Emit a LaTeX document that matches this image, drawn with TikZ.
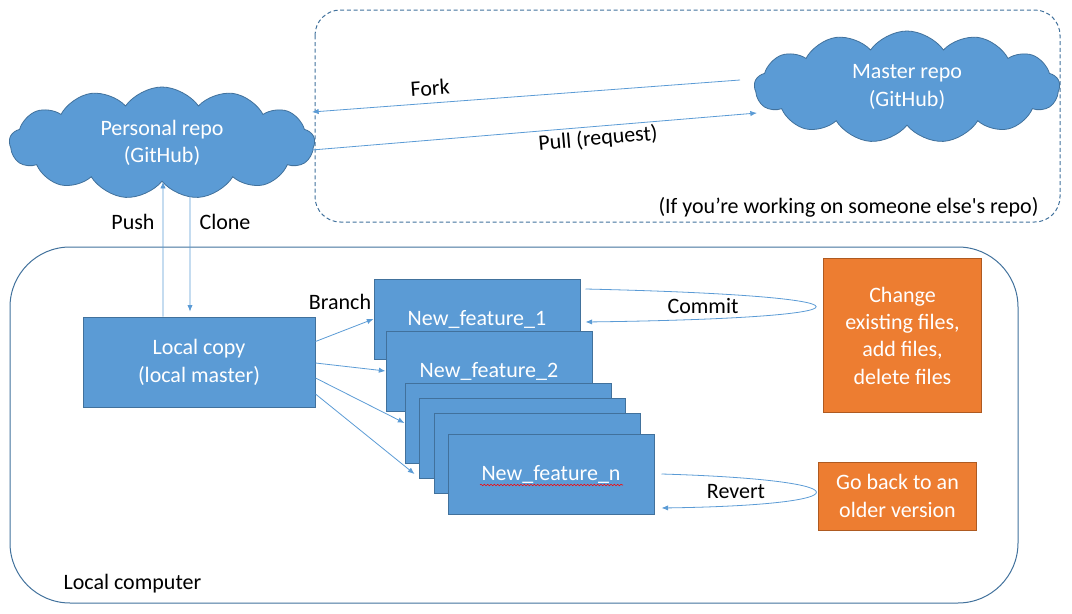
\documentclass[tikz,border=0pt]{standalone}
\usepackage{fontspec}
\setmainfont{Carlito}[Ligatures=TeXOff]
\usetikzlibrary{shapes.symbols,arrows.meta,calc,decorations.pathmorphing}
\definecolor{boxblue}{HTML}{5B9BD5}
\definecolor{edgeblue}{HTML}{41719C}
\definecolor{boxorange}{HTML}{ED7D31}
\definecolor{edgeorange}{HTML}{AE5A21}
\tikzset{
  arr/.style={draw=boxblue,line width=0.6pt,-{Latex[length=5pt,width=4pt]}},
  repocloud/.style={cloud,cloud puffs=13,cloud puff arc=110,aspect=2.7,fill=boxblue,draw=edgeblue,
    line width=0.6pt,text=white,align=center,inner sep=0pt,minimum width=229pt,minimum height=84pt},
  featbox/.style={rectangle,fill=boxblue,draw=edgeblue,line width=0.75pt,text=white,
    minimum width=154.5pt,minimum height=60pt},
  notebox/.style={rectangle,fill=boxorange,draw=edgeorange,line width=0.75pt,text=white,align=center},
  lbl/.style={text=black,inner sep=1pt}
}
\begin{document}
\begin{tikzpicture}[x=0.75pt,y=-0.75pt,font=\fontsize{16.5}{20.5}\selectfont]
  \useasboundingbox (0,0) rectangle (1072,614);
  % frames
  \draw[edgeblue,line width=0.75pt,dash pattern=on 3pt off 2pt,rounded corners=19pt] (315,10) rectangle (1060,222);
  \draw[edgeblue,line width=0.75pt,rounded corners=45pt] (10,247) rectangle (1018,603);
  % repos
  \node (personal) at (162,143)[repocloud]{Personal repo\\(GitHub)};
  \node (master) at (907,87)[repocloud]{Master repo\\(GitHub)};
  \node (local) at (199,362.5)[featbox,minimum width=174pt,minimum height=68pt,align=center]{Local copy\\(local master)};
  % branches
  \node (feat1) at (477,319)[featbox]{New\_feature\_1};
  \node (feat2) at (489,371)[featbox]{New\_feature\_2};
  \node (feat3) at (508,423)[featbox]{};
  \node (feat4) at (522,438)[featbox]{};
  \node (feat5) at (537,453)[featbox]{};
  \node (featn) at (551,474)[featbox]{New\_feature\_n};
  \draw[red,line width=0.4pt,decorate,decoration={snake,amplitude=0.6pt,segment length=2.5pt}]
    ($(featn.center)+(-71,11)$) -- ($(featn.center)+(72,11)$);
  \node (change) at (902.5,335.5)[notebox,minimum width=119pt,minimum height=116pt]{Change\\existing files,\\add files,\\delete files};
  \node (goback) at (897.5,496)[notebox,minimum width=119pt,minimum height=51pt]{Go back to an\\older version};
  % connectors
  \draw[arr] ($(master.center)+(-167,-7)$) -- ($(personal.center)+(150,-31)$);
  \draw[arr] ($(personal.center)+(150,7)$) -- ($(master.center)+(-150,26)$);
  \draw[arr] ($(local.north)+(-36,0)$) -- ($(personal.south)+(1,0)$);
  \draw[arr] ($(personal.south)+(28,0)$) -- ($(local.north)+(-9,-5)$);
  \draw[arr] ($(local.east)+(0,-21)$) -- (feat1.west);
  \draw[arr] ($(local.east)+(0,0.5)$) -- (feat2.west);
  \draw[arr] ($(local.east)+(0,15.5)$) -- (feat3.west);
  \draw[arr] ($(local.east)+(0,31.5)$) -- ($(feat4.west |- featn.west)+(-4,0)$);
  \draw[arr] ($(feat1.east)+(5,-30)$) .. controls (892,296) and (892,318) .. ($(feat1.east)+(5,3)$);
  \draw[arr] ($(featn.east)+(7,0)$) .. controls (867,480) and (867,505) .. ($(featn.east)+(7,34)$);
  % labels
  \node at (430,88)[lbl,rotate=4]{Fork};
  \node at (598,139)[lbl,rotate=5]{Pull (request)};
  \node at (133,222)[lbl]{Push};
  \node at (225,222)[lbl]{Clone};
  \node at (340,302)[lbl]{Branch};
  \node at (703,306)[lbl]{Commit};
  \node at (736,492)[lbl]{Revert};
  \node at (1040,207)[lbl,anchor=east]{(If you’re working on someone else's repo)};
  \node at (62,584)[lbl,anchor=west]{Local computer};
\end{tikzpicture}
\end{document}
